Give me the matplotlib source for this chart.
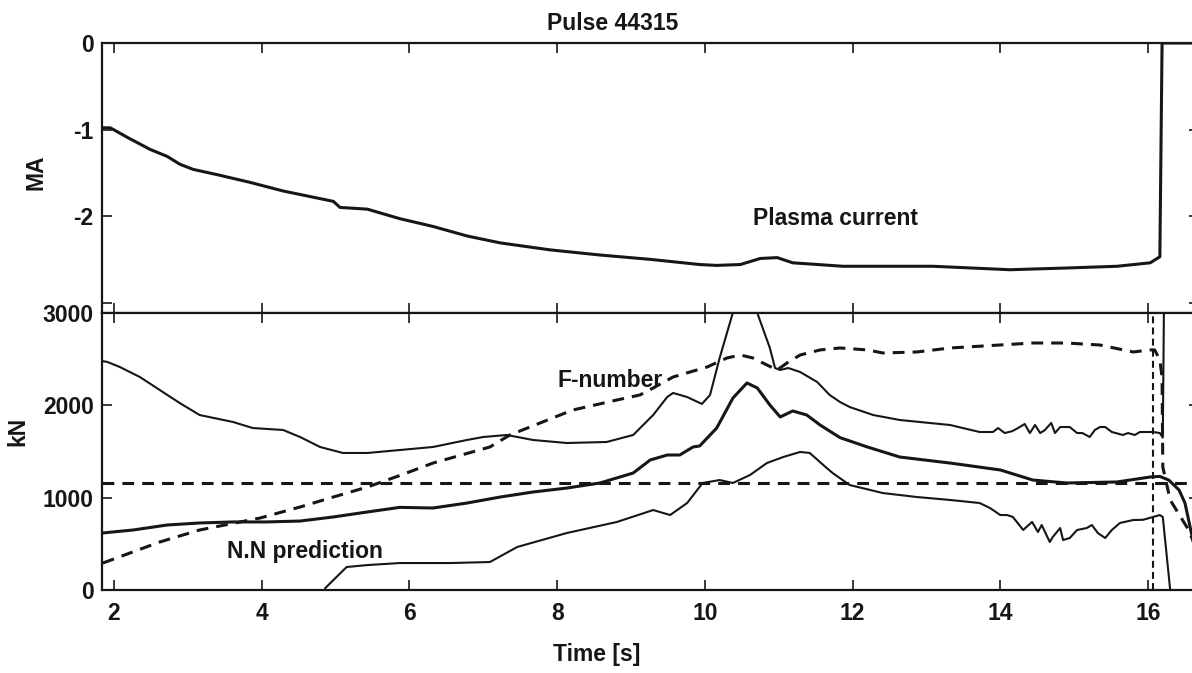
import matplotlib
matplotlib.use("Agg")
import matplotlib.pyplot as plt

plt.rcParams['font.family'] = ['Liberation Sans', 'DejaVu Sans']
plt.rcParams['font.weight'] = 'bold'
plt.rcParams['font.size'] = 16.5
plt.rcParams['lines.scale_dashes'] = False

INK = '#161616'

# ---- Plasma current (MA) ----
t_ip = [1.84, 1.95, 2.18, 2.49, 2.72, 2.89, 3.07, 3.39, 3.84, 4.29, 4.97, 5.06,
        5.43, 5.87, 6.32, 6.78, 7.23, 7.90, 8.58, 9.26, 9.93, 10.16, 10.48,
        10.75, 10.98, 11.19, 11.87, 13.09, 14.13, 14.90, 15.58, 16.03, 16.16,
        16.19, 16.70]
ip_ma = [-0.98, -0.98, -1.09, -1.23, -1.31, -1.40, -1.46, -1.52, -1.61, -1.71,
         -1.83, -1.90, -1.92, -2.03, -2.12, -2.23, -2.31, -2.39, -2.45, -2.50,
         -2.56, -2.57, -2.56, -2.49, -2.48, -2.54, -2.58, -2.58, -2.62, -2.60,
         -2.58, -2.54, -2.47, 0.0, 0.0]

# ---- Force traces (kN) ----
t_upper = [1.84, 1.91, 2.08, 2.35, 2.62, 2.89, 3.16, 3.61, 3.88, 4.29, 4.52,
           4.79, 5.10, 5.43, 5.87, 6.32, 6.78, 7.00, 7.32, 7.67, 8.13, 8.67,
           9.03, 9.30, 9.49, 9.57, 9.76, 9.96, 10.07, 10.20, 10.37, 10.54,
           10.72, 10.88, 10.95, 11.02, 11.13, 11.29, 11.52, 11.69, 11.83,
           11.96, 12.28, 12.64, 13.32, 13.72, 13.90, 13.97, 14.06, 14.16,
           14.24, 14.33, 14.40, 14.47, 14.54, 14.60, 14.69, 14.74, 14.81,
           14.94, 15.04, 15.11, 15.21, 15.28, 15.35, 15.42, 15.51, 15.66,
           15.73, 15.82, 15.89, 16.07, 16.16, 16.20, 16.22]
kn_upper = [2480, 2470, 2415, 2307, 2166, 2025, 1895, 1820, 1754, 1733, 1657,
            1549, 1484, 1484, 1516, 1549, 1625, 1657, 1679, 1625, 1592, 1603,
            1679, 1895, 2090, 2134, 2090, 2015, 2112, 2513, 2978, 3500,
            2978, 2621, 2404, 2383, 2404, 2361, 2253, 2112, 2036,
            1982, 1895, 1841, 1787, 1711, 1711, 1754, 1700, 1720,
            1754, 1798, 1700, 1787, 1700, 1730, 1809, 1700, 1765,
            1765, 1700, 1700, 1657, 1733, 1765, 1765, 1711, 1679,
            1700, 1679, 1711, 1711, 1700, 1650, 3500]

t_mid = [1.84, 2.26, 2.72, 3.16, 3.61, 4.07, 4.52, 4.97, 5.43, 5.87, 6.32,
         6.78, 7.23, 7.67, 8.13, 8.58, 9.03, 9.26, 9.49, 9.66, 9.84, 9.93,
         10.16, 10.38, 10.57, 10.71, 10.88, 11.02, 11.19, 11.38, 11.56,
         11.83, 12.20, 12.64, 13.32, 14.00, 14.44, 14.90, 15.58, 16.03,
         16.16, 16.28, 16.42, 16.50, 16.57, 16.65]
kn_mid = [617, 650, 704, 726, 737, 737, 747, 791, 845, 895, 888,
          942, 1007, 1061, 1104, 1159, 1267, 1408, 1462, 1462, 1549, 1560,
          1754, 2079, 2242, 2188, 2004, 1874, 1939, 1895, 1787,
          1650, 1549, 1440, 1375, 1300, 1191, 1159, 1170, 1224,
          1230, 1191, 1083, 942, 682, 380]

t_lower = [4.86, 5.15, 5.43, 5.87, 6.55, 7.09, 7.46, 8.13, 8.81, 9.30, 9.53,
           9.76, 9.97, 10.20, 10.38, 10.61, 10.84, 11.06, 11.29, 11.42, 11.65,
           11.73, 11.96, 12.41, 12.87, 13.32, 13.72, 13.86, 14.00, 14.09,
           14.17, 14.31, 14.43, 14.51, 14.56, 14.67, 14.71, 14.81, 14.85,
           14.94, 15.04, 15.17, 15.24, 15.32, 15.42, 15.51, 15.62, 15.80,
           15.93, 16.07, 16.16, 16.20, 16.30]
kn_lower = [20, 249, 270, 292, 292, 303, 466, 617, 737, 866, 812,
            942, 1159, 1191, 1159, 1245, 1375, 1440, 1495, 1484, 1321,
            1267, 1137, 1050, 1007, 975, 942, 888, 812, 812,
            791, 650, 737, 628, 704, 520, 574, 671, 541,
            563, 650, 671, 704, 617, 563, 650, 726, 758,
            760, 791, 812, 790, 0]

# F-number (dashed)
t_fnum = [1.85, 2.62, 3.16, 3.98, 4.52, 4.97, 5.43, 5.87, 6.32, 7.09, 7.36,
          7.77, 8.21, 8.81, 9.12, 9.30, 9.57, 10.03, 10.30, 10.48, 10.65,
          10.84, 10.98, 11.11, 11.29, 11.56, 11.83, 12.20, 12.41, 12.87,
          13.32, 14.44, 14.90, 15.35, 15.80, 16.03, 16.09, 16.16, 16.19,
          16.20, 16.30, 16.55, 16.65]
kn_fnum = [292, 520, 650, 780, 899, 1007, 1115, 1240, 1375, 1549, 1679,
           1809, 1949, 2058, 2112, 2188, 2307, 2415, 2513, 2545, 2513,
           2437, 2383, 2458, 2545, 2600, 2621, 2600, 2567, 2578,
           2621, 2675, 2675, 2653, 2578, 2600, 2600, 2491, 2307,
           1332, 975, 650, 450]

# N.N prediction threshold and disruption time
nn_level = 1160
t_disrupt = 16.07

fig = plt.figure(figsize=(11.92, 6.73), dpi=100)
W, H = 1192.0, 673.0


def box(x0, y0, x1, y1):
    return [x0 / W, 1 - y1 / H, (x1 - x0) / W, (y1 - y0) / H]


ax_top = fig.add_axes(box(102, 43, 1199, 313))
ax_bot = fig.add_axes(box(102, 313, 1199, 590), sharex=ax_top)

for ax in (ax_top, ax_bot):
    ax.set_facecolor('white')
    for sp in ax.spines.values():
        sp.set_linewidth(1.6)
        sp.set_color(INK)
    ax.tick_params(direction='in', length=7.5, width=1.2, top=True,
                   right=True, colors=INK, labelsize=16.5, pad=6)

# top panel
ax_top.plot(t_ip, ip_ma, color=INK, lw=2.2, solid_joinstyle='round')
ax_top.set_xlim(1.838, 16.69)
ax_top.set_ylim(-3.12, 0.0)
ax_top.set_yticks([0, -1, -2, -3])
ax_top.set_yticklabels(['0', '-1', '-2', ''])
ax_top.set_xticks([2, 4, 6, 8, 10, 12, 14, 16])
ax_top.tick_params(labelbottom=False)
ax_top.text(10.65, -2.098, 'Plasma current', ha='left', va='baseline',
            color=INK)

# bottom panel
ax_bot.plot(t_upper, kn_upper, color=INK, lw=1.5, solid_joinstyle='round')
ax_bot.plot(t_mid, kn_mid, color=INK, lw=2.2, solid_joinstyle='round')
ax_bot.plot(t_lower, kn_lower, color=INK, lw=1.5, solid_joinstyle='round')
ax_bot.plot(t_fnum, kn_fnum, color=INK, lw=2.2, linestyle=(0, (8.5, 5.8)))
ax_bot.axhline(nn_level, color=INK, lw=2.2, linestyle=(0, (8.5, 5.8)))
ax_bot.axvline(t_disrupt, color=INK, lw=1.5, linestyle=(0, (5, 3)))
ax_bot.set_ylim(0, 3000)
ax_bot.set_yticks([0, 1000, 2000, 3000])
ax_bot.set_xticks([2, 4, 6, 8, 10, 12, 14, 16])
ax_bot.tick_params(axis='x', pad=9)
ax_bot.text(8.00, 2199, 'F-number', ha='left', va='baseline', color=INK)
ax_bot.text(3.53, 347, 'N.N prediction', ha='left', va='baseline', color=INK)

fig.text(613 / W, 1 - 30 / H, 'Pulse 44315', ha='center', va='baseline',
         color=INK)
fig.text(597 / W, 1 - 654 / H, 'Time [s]', ha='center', va='center',
         color=INK)
fig.text(36 / W, 1 - 172 / H, 'MA', rotation=90, ha='center', va='center',
         color=INK)
fig.text(18 / W, 1 - 431 / H, 'kN', rotation=90, ha='center', va='center',
         color=INK)

fig.savefig('out.png', dpi=100, facecolor='white')
